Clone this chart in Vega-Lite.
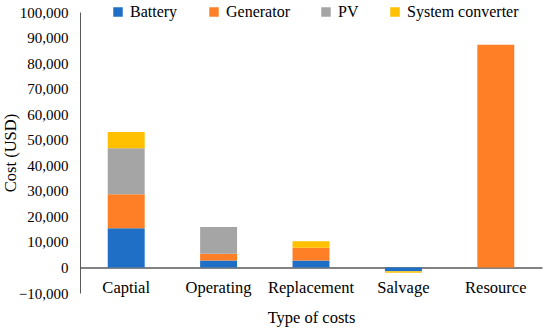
{
  "$schema": "https://vega.github.io/schema/vega-lite/v6.json",
  "width": 462,
  "height": 281,
  "autosize": "none",
  "padding": {"left": 80, "top": 12, "right": 8, "bottom": 38},
  "background": "white",
  "config": {
    "font": "Liberation Serif",
    "view": {"stroke": null},
    "axis": {"labelFont": "Liberation Serif", "titleFont": "Liberation Serif", "labelColor": "#000", "titleColor": "#000", "titleFontWeight": "normal"}
  },
  "data": {
    "values": [
      {"cost": "Captial", "component": "Battery", "value": 15300},
      {"cost": "Captial", "component": "Generator", "value": 13400},
      {"cost": "Captial", "component": "PV", "value": 18000},
      {"cost": "Captial", "component": "System converter", "value": 6300},
      {"cost": "Operating", "component": "Battery", "value": 2700},
      {"cost": "Operating", "component": "Generator", "value": 2700},
      {"cost": "Operating", "component": "PV", "value": 10400},
      {"cost": "Operating", "component": "System converter", "value": 0},
      {"cost": "Replacement", "component": "Battery", "value": 2700},
      {"cost": "Replacement", "component": "Generator", "value": 5000},
      {"cost": "Replacement", "component": "PV", "value": 0},
      {"cost": "Replacement", "component": "System converter", "value": 2600},
      {"cost": "Salvage", "component": "Battery", "value": -1500},
      {"cost": "Salvage", "component": "Generator", "value": 0},
      {"cost": "Salvage", "component": "PV", "value": 0},
      {"cost": "Salvage", "component": "System converter", "value": -600},
      {"cost": "Resource", "component": "Battery", "value": 0},
      {"cost": "Resource", "component": "Generator", "value": 87200},
      {"cost": "Resource", "component": "PV", "value": 0},
      {"cost": "Resource", "component": "System converter", "value": 0}
    ]
  },
  "mark": {"type": "bar"},
  "encoding": {
    "x": {
      "field": "cost", "type": "nominal", "sort": null,
      "scale": {"paddingInner": 0.6, "paddingOuter": 0.3},
      "axis": {"title": "Type of costs", "labelAngle": 0, "offset": -25.5, "domain": true, "domainColor": "#595959", "domainWidth": 1.5, "ticks": false, "labelPadding": 12, "labelFontSize": 16.5, "titleFontSize": 16.5, "titlePadding": 13}
    },
    "y": {
      "field": "value", "type": "quantitative", "stack": "zero",
      "scale": {"domain": [-10000, 100000], "nice": false},
      "axis": {"title": "Cost (USD)", "values": [-10000, 0, 10000, 20000, 30000, 40000, 50000, 60000, 70000, 80000, 90000, 100000], "format": ",d", "grid": false, "ticks": false, "labelOverlap": false, "domainColor": "#595959", "labelFontSize": 15, "titleFontSize": 16.5, "labelPadding": 12, "titlePadding": 0}
    },
    "color": {
      "field": "component", "type": "nominal",
      "scale": {"domain": ["Battery", "Generator", "PV", "System converter"], "range": ["#1f6fc6", "#ff7f27", "#a5a5a5", "#ffc000"]},
      "legend": {"title": null, "orient": "none", "direction": "horizontal", "legendX": 30, "legendY": -8, "symbolType": "square", "symbolSize": 90, "symbolStrokeWidth": 0, "labelFontSize": 16, "labelFont": "Liberation Serif", "labelColor": "#000", "columnPadding": 28, "labelOffset": 4}
    },
    "order": {"field": "component", "sort": "ascending"}
  }
}
